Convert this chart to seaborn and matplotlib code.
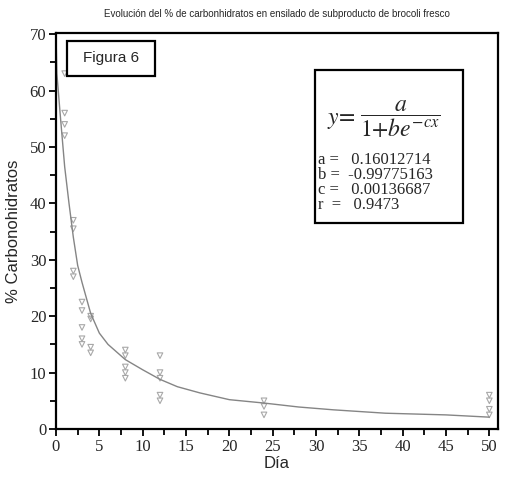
import matplotlib
matplotlib.use("Agg")
import matplotlib.pyplot as plt
from matplotlib.patches import Rectangle
from matplotlib.ticker import MultipleLocator
import seaborn as sns
import pandas as pd

# observed points (day, % carbohydrates)
dia = [1, 1, 1, 1, 2, 2, 2, 2, 3, 3, 3, 3, 3, 4, 4, 4, 4,
       8, 8, 8, 8, 8, 12, 12, 12, 12, 12, 24, 24, 24, 50, 50, 50, 50]
carb = [63, 56, 54, 52, 37, 35.5, 28, 27, 22.5, 21, 18, 16, 15, 20, 19.5, 14.5, 13.5,
        14, 13, 11, 10, 9, 13, 10, 9, 6, 5, 5, 4, 2.5, 6, 5, 3.5, 2.5]

# fitted curve
curve_x = [0, 0.1, 0.5, 1, 1.5, 2, 2.5, 3, 4, 5, 6, 8, 10, 12, 14, 16.6, 20, 24, 28, 32, 38, 45, 50]
curve_y = [70, 63, 55.5, 46.5, 40, 34, 29, 26, 20.5, 17, 15, 12.3, 10.5, 8.8, 7.5, 6.4, 5.2, 4.6, 3.9, 3.4, 2.8, 2.5, 2.1]

title = "Evolución del % de carbonhidratos en ensilado de subproducto de brocoli fresco"
xlabel = "Día"
ylabel = "% Carbonohidratos"
fig_label = "Figura 6"
params = ["a =   0.16012714", "b =  -0.99775163", "c =   0.00136687", "r  =   0.9473"]

sns.set_style("white")
plt.rcParams["mathtext.fontset"] = "stix"

df_pts = pd.DataFrame({"Día": dia, "carb": carb})
df_fit = pd.DataFrame({"x": curve_x, "y": curve_y})

fig = plt.figure(figsize=(5.07, 4.82), dpi=100)
ax = fig.add_axes([56 / 507, 1 - 429 / 482, 442 / 507, 396 / 482])

sns.lineplot(data=df_fit, x="x", y="y", ax=ax, color="#858585", lw=1.0, sort=True)
sns.scatterplot(data=df_pts, x="Día", y="carb", ax=ax, marker="v", s=16,
                facecolor="none", edgecolor="#a8a8a8", linewidth=0.8)

ax.set_xlim(0, 51)
ax.set_ylim(0, 70.2)
ax.xaxis.set_major_locator(MultipleLocator(5))
ax.xaxis.set_minor_locator(MultipleLocator(2.5))
ax.yaxis.set_major_locator(MultipleLocator(10))
ax.yaxis.set_minor_locator(MultipleLocator(5))
ax.tick_params(which="both", direction="out", bottom=True, left=True, top=False, right=False,
               color="black", width=1.3)
ax.tick_params(which="major", length=5, labelsize=12, pad=2)
ax.tick_params(which="minor", length=4)
for lab in ax.get_xticklabels() + ax.get_yticklabels():
    lab.set_family("Liberation Serif")
for side, sp in ax.spines.items():
    sp.set_color("black")
    sp.set_linewidth(1.6)

ax.set_xlabel(xlabel, family="Liberation Sans", fontsize=12, labelpad=1)
ax.set_ylabel(ylabel, family="Liberation Sans", fontsize=12, labelpad=6)

fig.text(0.546, 1 - 14 / 482, title, ha="center", va="center", family="Liberation Sans", fontsize=7)

# Figura 6 box
ax.add_patch(Rectangle((0.025, 0.891), 0.199, 0.089, transform=ax.transAxes, fill=False,
                       edgecolor="black", lw=1.6))
ax.text(0.1245, 0.937, fig_label, transform=ax.transAxes, ha="center", va="center",
        family="Liberation Sans", fontsize=11)

# equation box
ax.add_patch(Rectangle((0.586, 0.52), 0.335, 0.387, transform=ax.transAxes, fill=False,
                       edgecolor="black", lw=1.6))
ax.text(0.612, 0.782, r"$y\!=$", transform=ax.transAxes,
        ha="left", va="center", fontsize=17)
ax.text(0.78, 0.782, r"$\dfrac{a}{1{+}be^{-cx}}$", transform=ax.transAxes,
        ha="center", va="center", fontsize=17)
for i, p in enumerate(params):
    ax.text(0.592, 0.679 - i * 0.0375, p, transform=ax.transAxes, ha="left", va="center",
            family="Liberation Serif", fontsize=12)

fig.savefig("out.png", dpi=100)
